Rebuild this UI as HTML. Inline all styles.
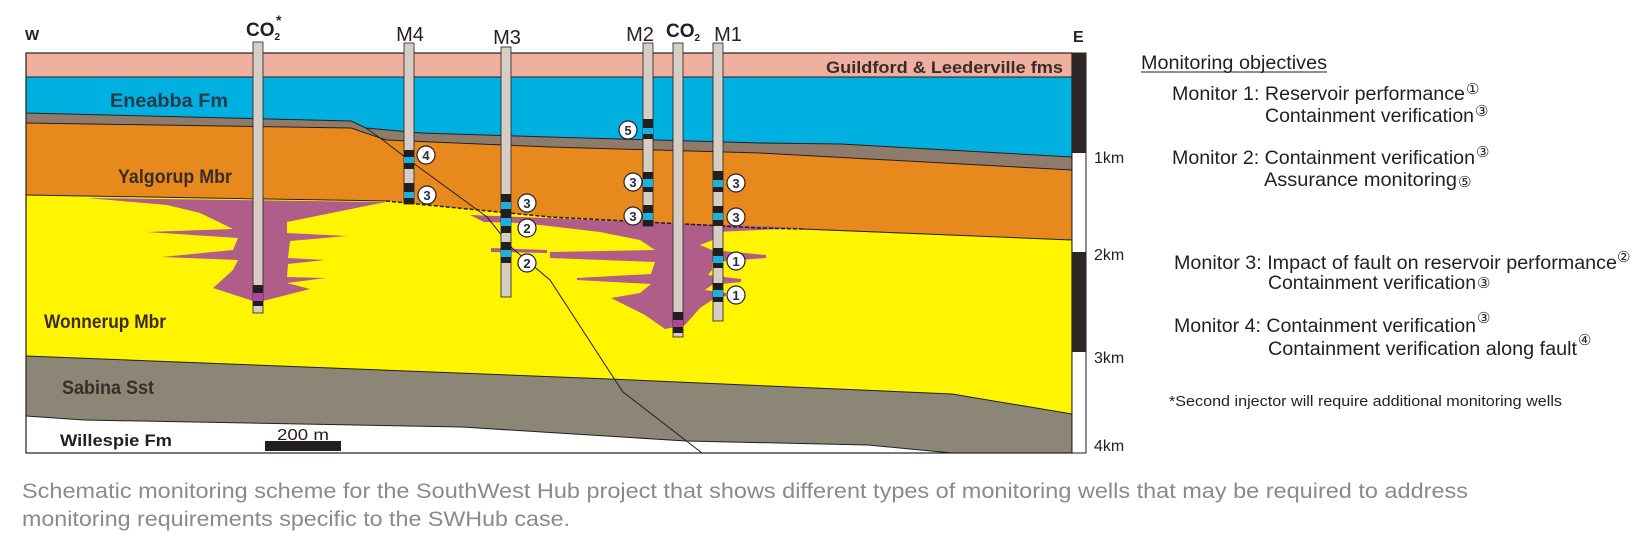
<!DOCTYPE html>
<html><head><meta charset="utf-8"><style>
html,body{margin:0;padding:0;background:#fff;}
svg{display:block;}
</style></head><body>
<svg width="1646" height="553" viewBox="0 0 1646 553" xmlns="http://www.w3.org/2000/svg" font-family="Liberation Sans, Arial, sans-serif">
<rect width="1646" height="553" fill="#fff"/>
<rect x="26" y="53" width="1046" height="400" fill="#efb0a0"/>
<polygon points="26,77 1072,77 1072,453 26,453" fill="#00b0e0"/>
<polygon points="26,113 351,121 366,128 421,133 550,137 760,143 841,144 1072,157 1072,453 26,453" fill="#8f7b6b"/>
<polygon points="26,123 351,128 386,140 550,147 760,153 1072,170 1072,453 26,453" fill="#e8891e"/>
<polygon points="26,195 386,201 550,217 760,228 1072,240 1072,453 26,453" fill="#fff500"/>
<polygon points="26,356 609,379 952,394 1072,414 1072,453 26,453" fill="#8c8677"/>
<polygon points="26,416 84,420 462,427 686,441 868,445 952,453 26,453" fill="#fff"/>
<g fill="none" stroke="#231f20" stroke-width="1">
<polyline points="26,77 1072,77"/>
<polyline points="26,113 351,121 366,128 421,133 550,137 760,143 841,144 1072,157"/>
<polyline points="26,123 351,128 386,140 550,147 760,153 1072,170"/>
<polyline points="26,356 609,379 952,394 1072,414"/>
<polyline points="26,416 84,420 462,427 686,441 868,445 952,453"/>
</g>
<g fill="#b15d8a">
<polygon points="87,198 386,202 287,222 287,233 347,236 290,241 288,258 325,260 288,264 287,277 326,278 287,283 310,289 263,301 253,301 213,288 233,270 238,260 162,257 233,250 238,238 147,232 233,229 200,213 167,205"/>
<polygon points="470,215 803,228 760,230 715,232 713,240 700,245 712,250 766,255 766,258 712,262 712,270 708,275 741,279 741,282 712,285 705,290 726,293 726,296 712,300 700,308 685,325 665,329 645,315 611,298 640,293 651,284 577,280 577,278 651,274 655,262 550,258 550,252 655,250 640,240 600,232 540,225 520,223 484,222"/>
<polygon points="491,248 547,250 547,253 491,252"/>
</g>
<polyline points="26,195 386,201" fill="none" stroke="#231f20" stroke-width="1"/>
<polyline points="386,201 550,217 760,228 803,229" fill="none" stroke="#231f20" stroke-width="1.5" stroke-dasharray="4,2"/>
<polyline points="803,229 1072,240" fill="none" stroke="#231f20" stroke-width="1"/>
<polyline points="366,128 380,138 409,160 487,217 512,248 550,280 615,380 623,392 702,453" fill="none" stroke="#231f20" stroke-width="1"/>
<rect x="26" y="53" width="1046" height="400" fill="none" stroke="#231f20" stroke-width="1.2"/>
<rect x="1072" y="53" width="14" height="400" fill="#fff" stroke="#231f20" stroke-width="1"/>
<rect x="1072" y="53" width="14" height="100" fill="#2d2624"/>
<rect x="1072" y="252" width="14" height="100" fill="#2d2624"/>
<g stroke="#231f20" stroke-width="0.8" fill="#d6cdc4">
<rect x="253" y="42" width="10" height="271"/>
<rect x="404" y="43" width="10" height="161"/>
<rect x="501" y="47" width="10" height="250"/>
<rect x="643" y="43" width="10" height="183"/>
<rect x="673" y="43" width="10" height="294"/>
<rect x="713" y="43" width="10" height="278"/>
</g>
<g fill="#231f20">
<rect x="253" y="285" width="10" height="8"/><rect x="253" y="301" width="10" height="5"/>
<rect x="404" y="150" width="10" height="7"/><rect x="404" y="163" width="10" height="6"/>
<rect x="404" y="183" width="10" height="9"/><rect x="404" y="198" width="10" height="6"/>
<rect x="501" y="194" width="10" height="8"/><rect x="501" y="209" width="10" height="9"/><rect x="501" y="226" width="10" height="7"/>
<rect x="501" y="242" width="10" height="8"/><rect x="501" y="257" width="10" height="6"/>
<rect x="643" y="119" width="10" height="9"/><rect x="643" y="134" width="10" height="5"/>
<rect x="643" y="172" width="10" height="7"/><rect x="643" y="187" width="10" height="5"/>
<rect x="643" y="205" width="10" height="8"/><rect x="643" y="220" width="10" height="6"/>
<rect x="673" y="312" width="10" height="8"/><rect x="673" y="327" width="10" height="6"/>
<rect x="713" y="171" width="10" height="9"/><rect x="713" y="187" width="10" height="5"/>
<rect x="713" y="206" width="10" height="7"/><rect x="713" y="220" width="10" height="6"/>
<rect x="713" y="248" width="10" height="8"/><rect x="713" y="263" width="10" height="5"/>
<rect x="713" y="283" width="10" height="7"/><rect x="713" y="297" width="10" height="5"/>
</g>
<g fill="#1bb0e0">
<rect x="404" y="157" width="10" height="6"/><rect x="404" y="192" width="10" height="6"/>
<rect x="501" y="202" width="10" height="7"/><rect x="501" y="218" width="10" height="8"/><rect x="501" y="250" width="10" height="7"/>
<rect x="643" y="128" width="10" height="6"/><rect x="643" y="179" width="10" height="8"/><rect x="643" y="213" width="10" height="7"/>
<rect x="713" y="180" width="10" height="7"/><rect x="713" y="213" width="10" height="7"/><rect x="713" y="256" width="10" height="7"/><rect x="713" y="290" width="10" height="7"/>
</g>
<rect x="253" y="293" width="10" height="8" fill="#b0479a"/>
<rect x="673" y="320" width="10" height="7" fill="#b0479a"/>
<g stroke="#231f20" stroke-width="1.2" fill="#fff">
<circle cx="426" cy="155" r="9"/><circle cx="427" cy="195" r="9"/>
<circle cx="527" cy="203" r="9"/><circle cx="527" cy="228" r="9"/><circle cx="527" cy="263" r="9"/>
<circle cx="628" cy="130" r="9"/><circle cx="633" cy="182" r="9"/><circle cx="633" cy="216" r="9"/>
<circle cx="736" cy="183" r="9"/><circle cx="736" cy="217" r="9"/><circle cx="736" cy="261" r="9"/><circle cx="736" cy="295" r="9"/>
</g>
<g font-size="13" font-weight="bold" fill="#2b2b3a" text-anchor="middle">
<text x="426" y="160">4</text><text x="427" y="200">3</text>
<text x="527" y="208">3</text><text x="527" y="233">2</text><text x="527" y="268">2</text>
<text x="628" y="135">5</text><text x="633" y="187">3</text><text x="633" y="221">3</text>
<text x="736" y="188">3</text><text x="736" y="222">3</text><text x="736" y="266">1</text><text x="736" y="300">1</text>
</g>
<g fill="#231f20">
<text x="25" y="40" font-size="15" font-weight="bold">W</text>
<text x="1073" y="42" font-size="16" font-weight="bold">E</text>
<text x="246" y="36" font-size="19" font-weight="bold">CO<tspan font-size="10" dy="4">2</tspan></text>
<text x="276" y="25" font-size="14" font-weight="bold">*</text>
<text x="410" y="41" font-size="20" text-anchor="middle">M4</text>
<text x="507" y="44" font-size="20" text-anchor="middle">M3</text>
<text x="640" y="41" font-size="20" text-anchor="middle">M2</text>
<text x="666" y="37" font-size="19" font-weight="bold">CO<tspan font-size="10" dy="4">2</tspan></text>
<text x="728" y="41" font-size="20" text-anchor="middle">M1</text>
</g>
<g font-weight="bold" font-size="19" fill="#3a2c2a">
<text x="826" y="73" font-size="17" textLength="237" lengthAdjust="spacingAndGlyphs">Guildford &amp; Leederville fms</text>
<text x="110" y="107" fill="#27394a" textLength="118" lengthAdjust="spacingAndGlyphs">Eneabba Fm</text>
<text x="118" y="183" textLength="114" lengthAdjust="spacingAndGlyphs">Yalgorup Mbr</text>
<text x="44" y="328" textLength="122" lengthAdjust="spacingAndGlyphs">Wonnerup Mbr</text>
<text x="62" y="394" textLength="92" lengthAdjust="spacingAndGlyphs">Sabina Sst</text>
<text x="60" y="446" font-size="17" fill="#231f20" textLength="112" lengthAdjust="spacingAndGlyphs">Willespie Fm</text>
</g>
<text x="277" y="440" font-size="16" fill="#231f20" textLength="52" lengthAdjust="spacingAndGlyphs">200 m</text>
<rect x="265" y="441" width="76" height="10" fill="#231f20"/>
<g font-size="16" fill="#231f20">
<text x="1094" y="163">1km</text>
<text x="1094" y="260">2km</text>
<text x="1094" y="363">3km</text>
<text x="1094" y="451">4km</text>
</g>
<g font-size="19" fill="#231f20">
<text x="1141" y="69" textLength="186" lengthAdjust="spacingAndGlyphs">Monitoring objectives</text>
<line x1="1141" y1="72" x2="1327" y2="72" stroke="#231f20" stroke-width="1"/>
<text x="1172" y="100" textLength="293" lengthAdjust="spacingAndGlyphs">Monitor 1: Reservoir performance</text>
<text x="1265" y="122" textLength="209" lengthAdjust="spacingAndGlyphs">Containment verification</text>
<text x="1172" y="164" textLength="303" lengthAdjust="spacingAndGlyphs">Monitor 2: Containment verification</text>
<text x="1264" y="186" textLength="193" lengthAdjust="spacingAndGlyphs">Assurance monitoring</text>
<text x="1174" y="269" textLength="443" lengthAdjust="spacingAndGlyphs">Monitor 3: Impact of fault on reservoir performance</text>
<text x="1268" y="289" textLength="208" lengthAdjust="spacingAndGlyphs">Containment verification</text>
<text x="1174" y="332" textLength="302" lengthAdjust="spacingAndGlyphs">Monitor 4: Containment verification</text>
<text x="1268" y="355" textLength="309" lengthAdjust="spacingAndGlyphs">Containment verification along fault</text>
<text x="1169" y="406" font-size="15" textLength="393" lengthAdjust="spacingAndGlyphs">*Second injector will require additional monitoring wells</text>
</g>
<g font-size="15" fill="#231f20">
<text x="1466" y="94">①</text>
<text x="1475" y="116">③</text>
<text x="1476" y="157">③</text>
<text x="1458" y="187">⑤</text>
<text x="1617" y="262">②</text>
<text x="1477" y="288">③</text>
<text x="1477" y="323">③</text>
<text x="1578" y="345">④</text>
</g>
<g font-size="21" fill="#8a8a8a">
<text x="22" y="498" textLength="1446" lengthAdjust="spacingAndGlyphs">Schematic monitoring scheme for the SouthWest Hub project that shows different types of monitoring wells that may be required to address</text>
<text x="22" y="526" textLength="548" lengthAdjust="spacingAndGlyphs">monitoring requirements specific to the SWHub case.</text>
</g>
</svg>
</body></html>
